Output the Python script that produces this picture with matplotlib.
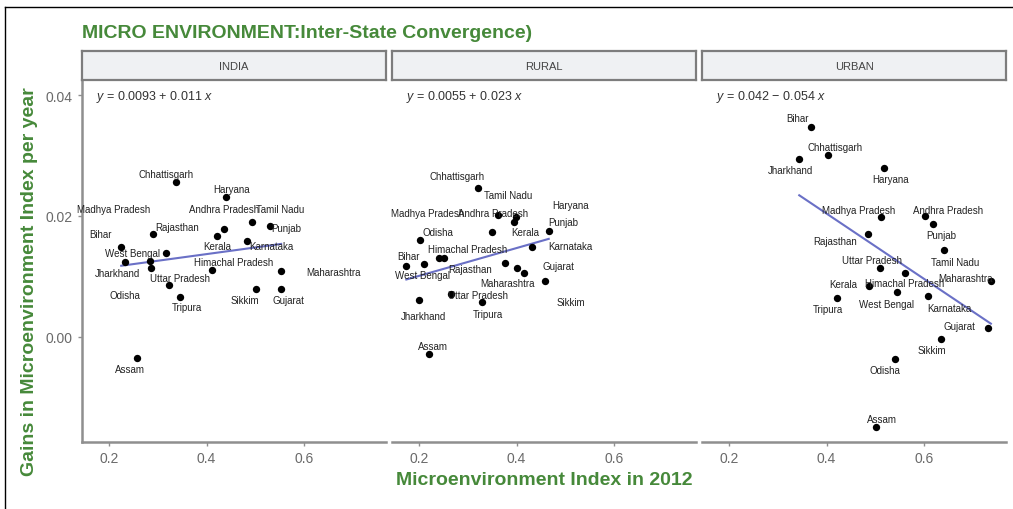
import matplotlib
matplotlib.use('Agg')
import matplotlib.pyplot as plt
import numpy as np
from matplotlib.lines import Line2D

plt.rcParams['font.family'] = ['Liberation Sans', 'DejaVu Sans']
plt.rcParams['mathtext.fontset'] = 'custom'
plt.rcParams['mathtext.it'] = 'Liberation Sans:italic'
plt.rcParams['mathtext.rm'] = 'Liberation Sans'

# data
states = ['Andhra Pradesh', 'Assam', 'Bihar', 'Chhattisgarh', 'Gujarat', 'Haryana',
          'Himachal Pradesh', 'Jharkhand', 'Karnataka', 'Kerala', 'Madhya Pradesh',
          'Maharashtra', 'Odisha', 'Punjab', 'Rajasthan', 'Sikkim', 'Tamil Nadu',
          'Tripura', 'Uttar Pradesh', 'West Bengal']

india_x = [0.436, 0.258, 0.225, 0.338, 0.552, 0.439, 0.411, 0.233, 0.482, 0.421,
           0.290, 0.553, 0.286, 0.531, 0.317, 0.502, 0.494, 0.345, 0.324, 0.284]
india_y = [0.0179, -0.0034, 0.0148, 0.0256, 0.0080, 0.0231, 0.0110, 0.0124, 0.0159, 0.0167,
           0.0170, 0.0109, 0.0114, 0.0184, 0.0139, 0.0080, 0.0190, 0.0066, 0.0086, 0.0126]

rural_x = [0.362, 0.220, 0.174, 0.320, 0.400, 0.394, 0.252, 0.200, 0.432, 0.350,
           0.242, 0.415, 0.202, 0.466, 0.377, 0.458, 0.398, 0.330, 0.265, 0.210]
rural_y = [0.0202, -0.0028, 0.0118, 0.0246, 0.0114, 0.0190, 0.0130, 0.0061, 0.0148, 0.0173,
           0.0130, 0.0106, 0.0160, 0.0176, 0.0122, 0.0093, 0.0198, 0.0057, 0.0071, 0.0120]

urban_x = [0.602, 0.502, 0.368, 0.404, 0.731, 0.517, 0.561, 0.344, 0.608, 0.487,
           0.512, 0.737, 0.541, 0.619, 0.485, 0.634, 0.640, 0.422, 0.510, 0.544]
urban_y = [0.0200, -0.0149, 0.0347, 0.0300, 0.0015, 0.0279, 0.0106, 0.0295, 0.0067, 0.0085,
           0.0199, 0.0093, -0.0036, 0.0187, 0.0171, -0.0003, 0.0143, 0.0064, 0.0114, 0.0075]

panels = ['INDIA', 'RURAL', 'URBAN']
intercepts = [0.0093, 0.0055, 0.042]
slopes = [0.011, 0.023, -0.054]
equations = [r'$y$ = 0.0093 + 0.011 $x$', r'$y$ = 0.0055 + 0.023 $x$', r'$y$ = 0.042 − 0.054 $x$']

# label offsets (pixels, dx right / dy up), same order as states
india_off = [(0, 20), (-7, -11), (-21, 13), (-10, 8), (8, -11), (6, 8), (22, 8), (-8, -11),
             (25, -5), (0, -10), (-39, 25), (52, -1), (-26, -27), (16, -2), (11, 26),
             (-11, -11), (28, 13), (7, -10), (11, 7), (-17, 8)]
rural_off = [(-5, 2), (4, 8), (2, 10), (-20, 12), (42, 2), (57, 17), (23, 9), (4, -16),
             (38, 1), (33, 0), (-12, 45), (-16, -10), (18, 8), (15, 9), (-35, -6),
             (26, -21), (-7, 22), (6, -12), (27, -1), (-1, -11)]
urban_off = [(23, 6), (6, 8), (-13, 9), (7, 8), (-29, 2), (7, -11), (0, -10), (-9, -11),
             (21, -12), (-26, 2), (-23, 7), (-25, 3), (-10, -11), (8, -11), (-33, -7),
             (-9, -11), (12, -12), (-9, -11), (-8, 8), (-10, -12)]

xs = [india_x, rural_x, urban_x]
ys = [india_y, rural_y, urban_y]
offs = [india_off, rural_off, urban_off]

green = '#46893a'
axgray = '#8f8f8f'
W, H = 1013, 510
fig = plt.figure(figsize=(W / 100, H / 100), dpi=100)

lefts = [82, 392, 702]
pw = 304
top, bottom = 81, 443
strip_top = 52

for i in range(3):
    ax = fig.add_axes([lefts[i] / W, (H - bottom) / H, pw / W, (bottom - top) / H])
    ax.set_xlim(0.1446, 0.768)
    ax.set_ylim(-0.01736, 0.04248)
    ax.scatter(xs[i], ys[i], s=28, color='black', zorder=3, linewidths=0)
    xx = np.array([min(xs[i]), max(xs[i])])
    ax.plot(xx, intercepts[i] + slopes[i] * xx, color='#6a70c6', lw=1.5, zorder=2)
    for name, x, y, (dx, dy) in zip(states, xs[i], ys[i], offs[i]):
        ax.annotate(name, (x, y), xytext=(dx, dy), textcoords='offset pixels',
                    ha='center', va='center', fontsize=7, color='#222222')
    ax.text(14 / pw, 1 - 16 / (bottom - top), equations[i], transform=ax.transAxes,
            ha='left', va='center', fontsize=9, color='#333333')
    for s in ['top', 'right']:
        ax.spines[s].set_visible(False)
    ax.spines['bottom'].set_color(axgray)
    ax.spines['bottom'].set_linewidth(1.8)
    ax.spines['left'].set_color(axgray)
    ax.spines['left'].set_linewidth(1.8)
    ax.set_xticks([0.2, 0.4, 0.6])
    ax.set_xticklabels(['0.2', '0.4', '0.6'])
    ax.tick_params(axis='both', colors=axgray, labelcolor='#6a6a6a', labelsize=10,
                   length=3, width=1)
    if i == 0:
        ax.set_yticks([0.0, 0.02, 0.04])
        ax.set_yticklabels(['0.00', '0.02', '0.04'])
    else:
        ax.spines['left'].set_visible(False)
        ax.set_yticks([])
    ax.patch.set_alpha(0)

    # facet strip
    sx = fig.add_axes([lefts[i] / W, (H - top) / H, pw / W, (top - strip_top) / H])
    sx.set_facecolor('#eff1f3')
    sx.set_xticks([])
    sx.set_yticks([])
    for s in sx.spines.values():
        s.set_color('#7d7d7d')
        s.set_linewidth(1.6)
    sx.text(0.5, 0.5, panels[i], ha='center', va='center', fontsize=8, color='#444444',
            transform=sx.transAxes)

fig.text(82 / W, (H - 34) / H, 'MICRO ENVIRONMENT:Inter-State Convergence)', ha='left',
         va='center', fontsize=14, fontweight='bold', color=green)
fig.text(544 / W, (H - 481) / H, 'Microenvironment Index in 2012', ha='center',
         va='center', fontsize=14, fontweight='bold', color=green)
fig.text(30 / W, (H - 282) / H, 'Gains in Microenvironment Index per year', ha='center',
         va='center', rotation=90, fontsize=14, fontweight='bold', color=green)

# outer frame (left and top edges visible)
fig.add_artist(Line2D([5 / W, 5 / W], [0, (H - 8) / H], color='black', lw=1))
fig.add_artist(Line2D([5 / W, 1], [(H - 8) / H, (H - 8) / H], color='black', lw=1))

fig.savefig('out.png', dpi=100)
